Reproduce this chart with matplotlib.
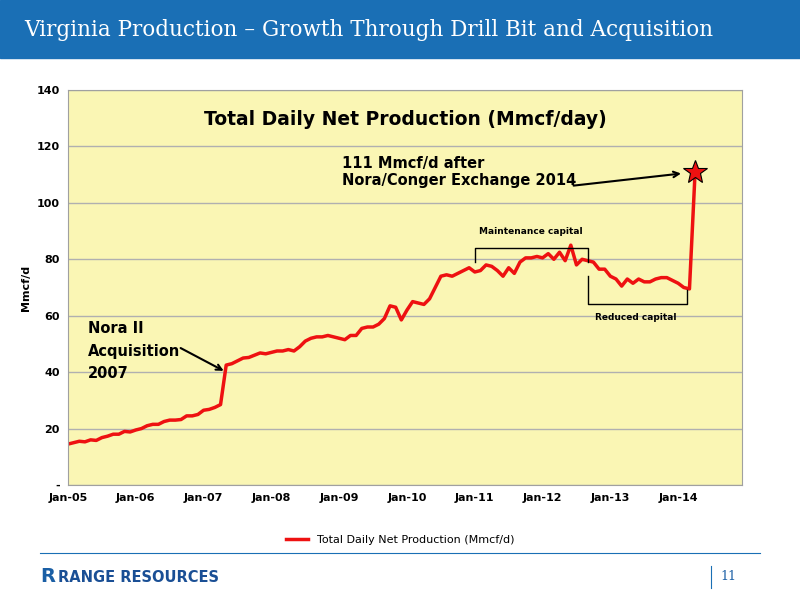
import matplotlib
matplotlib.use("Agg")
import matplotlib.pyplot as plt
from matplotlib.patches import Rectangle

tick_labels = ["Jan-05","Jan-06","Jan-07","Jan-08","Jan-09","Jan-10","Jan-11","Jan-12","Jan-13","Jan-14"]
production = [
 14.5,15,15.5,15.3,16,15.8,16.8,17.3,18,18,19,18.8,
 19.5,20,21,21.5,21.5,22.5,23,23,23.2,24.5,24.5,25,
 26.5,26.8,27.5,28.5,42.5,43,44,45,45.2,46,46.8,46.5,
 47,47.5,47.5,48,47.5,49,51,52,52.5,52.5,53,52.5,
 52,51.5,53,53,55.5,56,56,57,59,63.5,63,58.5,
 62,65,64.5,64,66,70,74,74.5,74,75,76,77,
 75.5,76,78,77.5,76,74,77,75,79,80.5,80.5,81,
 80.5,82,80,82.5,79.5,85,78,80,79.5,79,76.5,76.5,
 74,73,70.5,73,71.5,73,72,72,73,73.5,73.5,72.5,
 71.5,70,69.5,111]
months = list(range(len(production)))

fig = plt.figure(figsize=(8,6), dpi=100)
fig.patch.set_facecolor("white")
fig.add_artist(Rectangle((0,1-58/600),1,58/600,transform=fig.transFigure,color="#1a6fb5"))
fig.text(0.03,1-30/600,"Virginia Production – Growth Through Drill Bit and Acquisition",
         color="white",fontsize=15.5,family="DejaVu Serif",va="center")

ax = fig.add_axes([68/800,1-485/600,674/800,395/600])
ax.set_facecolor("#faf6b4")
ax.plot(months,production,color="#ee1111",lw=2.5)
ax.plot(months[-1],production[-1],marker="*",ms=18,color="#ee1111",mec="black",mew=0.8)
ax.set_ylim(0,140)
ax.set_xlim(0,119.3)
ax.set_yticks(range(0,141,20))
ax.set_yticklabels(["-"]+[str(v) for v in range(20,141,20)],fontsize=8,fontweight="bold")
ax.set_xticks(range(0,120,12))
ax.set_xticklabels(tick_labels,fontsize=8,fontweight="bold")
ax.tick_params(length=0,pad=6)
ax.grid(axis="y",color="#b0b0b0",lw=1)
ax.set_axisbelow(True)
for s in ax.spines.values():
    s.set_color("#a0a0a0")
ax.set_ylabel("Mmcf/d",fontsize=8,fontweight="bold")
ax.text(0.5,0.95,"Total Daily Net Production (Mmcf/day)",transform=ax.transAxes,
        ha="center",va="top",fontsize=13.5,fontweight="bold")
ax.text(3.5,58,"Nora II\nAcquisition\n2007",fontsize=10.5,fontweight="bold",va="top",linespacing=1.6)
ax.annotate("",xy=(28,40),xytext=(19.5,49),arrowprops=dict(arrowstyle="->",lw=1.5,color="black"))
ax.text(48.5,111,"111 Mmcf/d after\nNora/Conger Exchange 2014",fontsize=10.5,fontweight="bold",va="center")
ax.annotate("",xy=(109,110.5),xytext=(89,106),arrowprops=dict(arrowstyle="->",lw=1.5,color="black"))
ax.plot([72,72,92,92],[79,84,84,79],color="black",lw=1)
ax.text(82,89,"Maintenance capital",fontsize=6.5,fontweight="bold",ha="center")
ax.plot([92,92,109.5,109.5],[74,64,64,69],color="black",lw=1)
ax.text(100.5,58.5,"Reduced capital",fontsize=6.5,fontweight="bold",ha="center")

fig.legend([plt.Line2D([],[],color="#ee1111",lw=2.5)],["Total Daily Net Production (Mmcf/d)"],
           loc="center",bbox_to_anchor=(0.5,1-540/600),frameon=False,fontsize=8)

fig.add_artist(plt.Line2D([40/800,760/800],[1-553/600]*2,color="#1a6fb5",lw=0.8,transform=fig.transFigure))
fig.text(40/800,1-577/600,"R",color="#1a5fa5",fontsize=14,fontweight="bold",va="center")
fig.text(58/800,1-577/600,"RANGE RESOURCES",color="#1a4f95",fontsize=10.5,fontweight="bold",va="center")
fig.text(720/800,1-577/600,"11",color="#1a5fa5",fontsize=9,family="DejaVu Serif",va="center")
fig.add_artist(plt.Line2D([711/800]*2,[1-566/600,1-588/600],color="#1a6fb5",lw=0.8,transform=fig.transFigure))
fig.savefig("out.png",dpi=100)
